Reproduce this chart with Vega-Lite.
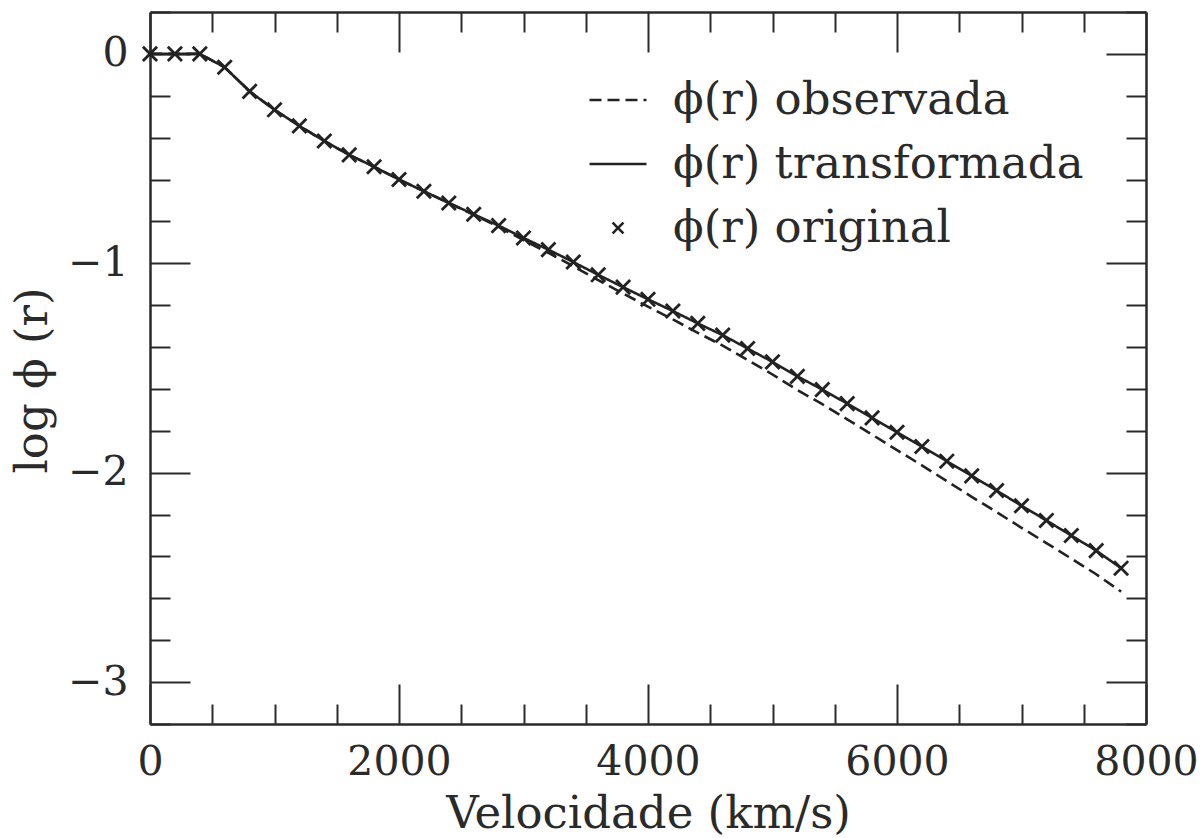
{
  "$schema": "https://vega.github.io/schema/vega-lite/v6.json",
  "width": 996,
  "height": 712,
  "autosize": {"type": "none"},
  "padding": {"left": 150, "top": 12, "right": 56, "bottom": 114},
  "background": "white",
  "config": {
    "view": {"stroke": null},
    "font": "DejaVu Serif",
    "axis": {
      "grid": false,
      "labelFlush": false,
      "domainColor": "#2a2a2a",
      "domainWidth": 2.5,
      "tickColor": "#2a2a2a",
      "tickWidth": 2,
      "labelFont": "DejaVu Serif",
      "labelFontSize": 41,
      "labelColor": "#2a2a2a",
      "titleFont": "DejaVu Serif",
      "titleFontSize": 45,
      "titleFontWeight": "normal",
      "titleColor": "#2a2a2a"
    }
  },
  "datasets": {
    "curvas": [
      {"v": 0, "logphi": 0, "serie": "ϕ(r) transformada"},
      {"v": 200, "logphi": 0, "serie": "ϕ(r) transformada"},
      {"v": 400, "logphi": 0, "serie": "ϕ(r) transformada"},
      {"v": 600, "logphi": -0.064, "serie": "ϕ(r) transformada"},
      {"v": 800, "logphi": -0.179, "serie": "ϕ(r) transformada"},
      {"v": 1000, "logphi": -0.267, "serie": "ϕ(r) transformada"},
      {"v": 1200, "logphi": -0.344, "serie": "ϕ(r) transformada"},
      {"v": 1400, "logphi": -0.416, "serie": "ϕ(r) transformada"},
      {"v": 1600, "logphi": -0.482, "serie": "ϕ(r) transformada"},
      {"v": 1800, "logphi": -0.539, "serie": "ϕ(r) transformada"},
      {"v": 2000, "logphi": -0.6, "serie": "ϕ(r) transformada"},
      {"v": 2200, "logphi": -0.656, "serie": "ϕ(r) transformada"},
      {"v": 2400, "logphi": -0.712, "serie": "ϕ(r) transformada"},
      {"v": 2600, "logphi": -0.766, "serie": "ϕ(r) transformada"},
      {"v": 2800, "logphi": -0.82, "serie": "ϕ(r) transformada"},
      {"v": 3000, "logphi": -0.879, "serie": "ϕ(r) transformada"},
      {"v": 3200, "logphi": -0.935, "serie": "ϕ(r) transformada"},
      {"v": 3400, "logphi": -0.994, "serie": "ϕ(r) transformada"},
      {"v": 3600, "logphi": -1.055, "serie": "ϕ(r) transformada"},
      {"v": 3800, "logphi": -1.114, "serie": "ϕ(r) transformada"},
      {"v": 4000, "logphi": -1.172, "serie": "ϕ(r) transformada"},
      {"v": 4200, "logphi": -1.228, "serie": "ϕ(r) transformada"},
      {"v": 4400, "logphi": -1.287, "serie": "ϕ(r) transformada"},
      {"v": 4600, "logphi": -1.343, "serie": "ϕ(r) transformada"},
      {"v": 4800, "logphi": -1.407, "serie": "ϕ(r) transformada"},
      {"v": 5000, "logphi": -1.471, "serie": "ϕ(r) transformada"},
      {"v": 5200, "logphi": -1.54, "serie": "ϕ(r) transformada"},
      {"v": 5400, "logphi": -1.603, "serie": "ϕ(r) transformada"},
      {"v": 5600, "logphi": -1.67, "serie": "ϕ(r) transformada"},
      {"v": 5800, "logphi": -1.738, "serie": "ϕ(r) transformada"},
      {"v": 6000, "logphi": -1.807, "serie": "ϕ(r) transformada"},
      {"v": 6200, "logphi": -1.875, "serie": "ϕ(r) transformada"},
      {"v": 6400, "logphi": -1.945, "serie": "ϕ(r) transformada"},
      {"v": 6600, "logphi": -2.015, "serie": "ϕ(r) transformada"},
      {"v": 6800, "logphi": -2.085, "serie": "ϕ(r) transformada"},
      {"v": 7000, "logphi": -2.158, "serie": "ϕ(r) transformada"},
      {"v": 7200, "logphi": -2.228, "serie": "ϕ(r) transformada"},
      {"v": 7400, "logphi": -2.3, "serie": "ϕ(r) transformada"},
      {"v": 7600, "logphi": -2.372, "serie": "ϕ(r) transformada"},
      {"v": 7800, "logphi": -2.456, "serie": "ϕ(r) transformada"},

      {"v": 0, "logphi": 0, "serie": "ϕ(r) observada"},
      {"v": 200, "logphi": 0, "serie": "ϕ(r) observada"},
      {"v": 400, "logphi": 0, "serie": "ϕ(r) observada"},
      {"v": 600, "logphi": -0.064, "serie": "ϕ(r) observada"},
      {"v": 800, "logphi": -0.179, "serie": "ϕ(r) observada"},
      {"v": 1000, "logphi": -0.267, "serie": "ϕ(r) observada"},
      {"v": 1200, "logphi": -0.344, "serie": "ϕ(r) observada"},
      {"v": 1400, "logphi": -0.416, "serie": "ϕ(r) observada"},
      {"v": 1600, "logphi": -0.482, "serie": "ϕ(r) observada"},
      {"v": 1800, "logphi": -0.539, "serie": "ϕ(r) observada"},
      {"v": 2000, "logphi": -0.6, "serie": "ϕ(r) observada"},
      {"v": 2200, "logphi": -0.656, "serie": "ϕ(r) observada"},
      {"v": 2400, "logphi": -0.712, "serie": "ϕ(r) observada"},
      {"v": 2600, "logphi": -0.768, "serie": "ϕ(r) observada"},
      {"v": 2800, "logphi": -0.826, "serie": "ϕ(r) observada"},
      {"v": 3000, "logphi": -0.889, "serie": "ϕ(r) observada"},
      {"v": 3200, "logphi": -0.95, "serie": "ϕ(r) observada"},
      {"v": 3400, "logphi": -1.014, "serie": "ϕ(r) observada"},
      {"v": 3600, "logphi": -1.08, "serie": "ϕ(r) observada"},
      {"v": 3800, "logphi": -1.144, "serie": "ϕ(r) observada"},
      {"v": 4000, "logphi": -1.207, "serie": "ϕ(r) observada"},
      {"v": 4200, "logphi": -1.268, "serie": "ϕ(r) observada"},
      {"v": 4400, "logphi": -1.332, "serie": "ϕ(r) observada"},
      {"v": 4600, "logphi": -1.393, "serie": "ϕ(r) observada"},
      {"v": 4800, "logphi": -1.462, "serie": "ϕ(r) observada"},
      {"v": 5000, "logphi": -1.531, "serie": "ϕ(r) observada"},
      {"v": 5200, "logphi": -1.605, "serie": "ϕ(r) observada"},
      {"v": 5400, "logphi": -1.673, "serie": "ϕ(r) observada"},
      {"v": 5600, "logphi": -1.745, "serie": "ϕ(r) observada"},
      {"v": 5800, "logphi": -1.818, "serie": "ϕ(r) observada"},
      {"v": 6000, "logphi": -1.892, "serie": "ϕ(r) observada"},
      {"v": 6200, "logphi": -1.965, "serie": "ϕ(r) observada"},
      {"v": 6400, "logphi": -2.04, "serie": "ϕ(r) observada"},
      {"v": 6600, "logphi": -2.115, "serie": "ϕ(r) observada"},
      {"v": 6800, "logphi": -2.188, "serie": "ϕ(r) observada"},
      {"v": 7000, "logphi": -2.263, "serie": "ϕ(r) observada"},
      {"v": 7200, "logphi": -2.336, "serie": "ϕ(r) observada"},
      {"v": 7400, "logphi": -2.41, "serie": "ϕ(r) observada"},
      {"v": 7600, "logphi": -2.485, "serie": "ϕ(r) observada"},
      {"v": 7800, "logphi": -2.568, "serie": "ϕ(r) observada"},

      {"v": 0, "logphi": 0, "serie": "ϕ(r) original"},
      {"v": 200, "logphi": 0, "serie": "ϕ(r) original"},
      {"v": 400, "logphi": 0, "serie": "ϕ(r) original"},
      {"v": 600, "logphi": -0.064, "serie": "ϕ(r) original"},
      {"v": 800, "logphi": -0.179, "serie": "ϕ(r) original"},
      {"v": 1000, "logphi": -0.267, "serie": "ϕ(r) original"},
      {"v": 1200, "logphi": -0.344, "serie": "ϕ(r) original"},
      {"v": 1400, "logphi": -0.416, "serie": "ϕ(r) original"},
      {"v": 1600, "logphi": -0.482, "serie": "ϕ(r) original"},
      {"v": 1800, "logphi": -0.539, "serie": "ϕ(r) original"},
      {"v": 2000, "logphi": -0.6, "serie": "ϕ(r) original"},
      {"v": 2200, "logphi": -0.656, "serie": "ϕ(r) original"},
      {"v": 2400, "logphi": -0.712, "serie": "ϕ(r) original"},
      {"v": 2600, "logphi": -0.766, "serie": "ϕ(r) original"},
      {"v": 2800, "logphi": -0.82, "serie": "ϕ(r) original"},
      {"v": 3000, "logphi": -0.879, "serie": "ϕ(r) original"},
      {"v": 3200, "logphi": -0.935, "serie": "ϕ(r) original"},
      {"v": 3400, "logphi": -0.994, "serie": "ϕ(r) original"},
      {"v": 3600, "logphi": -1.055, "serie": "ϕ(r) original"},
      {"v": 3800, "logphi": -1.114, "serie": "ϕ(r) original"},
      {"v": 4000, "logphi": -1.172, "serie": "ϕ(r) original"},
      {"v": 4200, "logphi": -1.228, "serie": "ϕ(r) original"},
      {"v": 4400, "logphi": -1.287, "serie": "ϕ(r) original"},
      {"v": 4600, "logphi": -1.343, "serie": "ϕ(r) original"},
      {"v": 4800, "logphi": -1.407, "serie": "ϕ(r) original"},
      {"v": 5000, "logphi": -1.471, "serie": "ϕ(r) original"},
      {"v": 5200, "logphi": -1.54, "serie": "ϕ(r) original"},
      {"v": 5400, "logphi": -1.603, "serie": "ϕ(r) original"},
      {"v": 5600, "logphi": -1.67, "serie": "ϕ(r) original"},
      {"v": 5800, "logphi": -1.738, "serie": "ϕ(r) original"},
      {"v": 6000, "logphi": -1.807, "serie": "ϕ(r) original"},
      {"v": 6200, "logphi": -1.875, "serie": "ϕ(r) original"},
      {"v": 6400, "logphi": -1.945, "serie": "ϕ(r) original"},
      {"v": 6600, "logphi": -2.015, "serie": "ϕ(r) original"},
      {"v": 6800, "logphi": -2.085, "serie": "ϕ(r) original"},
      {"v": 7000, "logphi": -2.158, "serie": "ϕ(r) original"},
      {"v": 7200, "logphi": -2.228, "serie": "ϕ(r) original"},
      {"v": 7400, "logphi": -2.3, "serie": "ϕ(r) original"},
      {"v": 7600, "logphi": -2.372, "serie": "ϕ(r) original"},
      {"v": 7800, "logphi": -2.456, "serie": "ϕ(r) original"}
    ]
  },
  "data": {"name": "curvas"},
  "resolve": {"axis": {"x": "independent", "y": "independent"}},
  "layer": [
    {
      "transform": [{"filter": "datum.serie !== 'ϕ(r) original'"}],
      "mark": {"type": "line", "color": "#222222", "strokeWidth": 2.6},
      "encoding": {
        "x": {
          "field": "v", "type": "quantitative",
          "scale": {"domain": [0, 8000], "nice": false, "zero": false},
          "axis": {
            "orient": "bottom", "values": [0, 2000, 4000, 6000, 8000],
            "format": "d", "tickSize": -40, "labelPadding": 58,
            "title": "Velocidade (km/s)", "titleY": 67, "titleBaseline": "top"
          }
        },
        "y": {
          "field": "logphi", "type": "quantitative",
          "scale": {"domain": [-3.2, 0.2], "nice": false, "zero": false},
          "axis": {
            "orient": "left", "values": [-3, -2, -1, 0],
            "format": "d", "tickSize": -40, "labelPadding": 62,
            "title": "log ϕ (r)", "titlePadding": 12, "titleY": 368
          }
        },
        "strokeDash": {
          "field": "serie", "type": "nominal",
          "scale": {
            "domain": ["ϕ(r) observada", "ϕ(r) transformada", "ϕ(r) original"],
            "range": [[12, 6], [1, 0], [1, 0]]
          },
          "legend": {
            "title": null,
            "orient": "none",
            "legendX": 438,
            "legendY": 58,
            "labelFont": "DejaVu Serif",
            "labelFontSize": 45,
            "labelColor": "#2a2a2a",
            "labelLimit": 0,
            "labelOffset": 25,
            "rowPadding": 11,
            "symbolType": "stroke",
            "symbolSize": 3249,
            "symbolStrokeWidth": 2.5,
            "symbolStrokeColor": "#222222",
            "symbolDash": [7, 5],
            "encode": {
              "symbols": {
                "update": {
                  "shape": {"signal": "datum.value === 'ϕ(r) original' ? 'M-1,-1L1,1M-1,1L1,-1' : 'stroke'"},
                  "size": {"signal": "datum.value === 'ϕ(r) original' ? 120 : 3249"}
                }
              }
            }
          }
        }
      }
    },
    {
      "transform": [{"filter": "datum.serie === 'ϕ(r) original'"}],
      "mark": {"type": "point", "shape": "M-1,-1L1,1M-1,1L1,-1", "size": 200, "filled": false, "color": "#222222", "strokeWidth": 2.8, "opacity": 1},
      "encoding": {
        "x": {
          "field": "v", "type": "quantitative",
          "axis": {"orient": "top", "values": [0, 2000, 4000, 6000, 8000], "tickSize": -40, "labels": false, "title": null}
        },
        "y": {
          "field": "logphi", "type": "quantitative",
          "axis": {"orient": "right", "values": [-3, -2, -1, 0], "tickSize": -40, "labels": false, "title": null}
        }
      }
    },
    {
      "transform": [{"filter": "datum.serie === 'ϕ(r) original'"}],
      "mark": {"type": "point", "opacity": 0},
      "encoding": {
        "x": {
          "field": "v", "type": "quantitative",
          "axis": {"orient": "bottom", "values": [500, 1000, 1500, 2500, 3000, 3500, 4500, 5000, 5500, 6500, 7000, 7500], "tickSize": -20, "labels": false, "domain": false, "title": null}
        },
        "y": {
          "field": "logphi", "type": "quantitative",
          "axis": {"orient": "left", "values": [-3.2, -2.8, -2.6, -2.4, -2.2, -1.8, -1.6, -1.4, -1.2, -0.8, -0.6, -0.4, -0.2, 0.2], "tickSize": -20, "labels": false, "domain": false, "title": null}
        }
      }
    },
    {
      "transform": [{"filter": "datum.serie === 'ϕ(r) original'"}],
      "mark": {"type": "point", "opacity": 0},
      "encoding": {
        "x": {
          "field": "v", "type": "quantitative",
          "axis": {"orient": "top", "values": [500, 1000, 1500, 2500, 3000, 3500, 4500, 5000, 5500, 6500, 7000, 7500], "tickSize": -20, "labels": false, "domain": false, "title": null}
        },
        "y": {
          "field": "logphi", "type": "quantitative",
          "axis": {"orient": "right", "values": [-3.2, -2.8, -2.6, -2.4, -2.2, -1.8, -1.6, -1.4, -1.2, -0.8, -0.6, -0.4, -0.2, 0.2], "tickSize": -20, "labels": false, "domain": false, "title": null}
        }
      }
    }
  ]
}
